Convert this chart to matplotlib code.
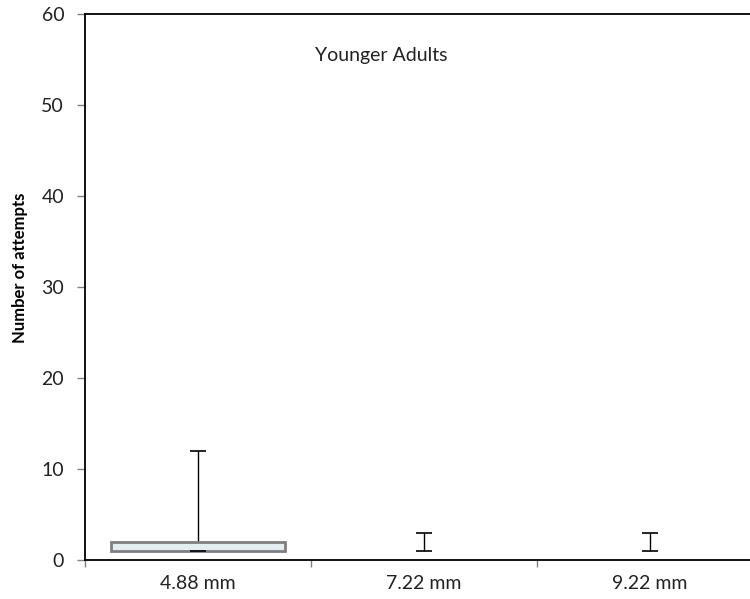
import matplotlib
matplotlib.use("Agg")
import matplotlib.pyplot as plt
import numpy as np

plt.rcParams['font.family'] = ['Lato', 'DejaVu Sans']

categories = ["4.88 mm", "7.22 mm", "9.22 mm"]
whisker_low = [1, 1, 1]
q1 = [1, 1, 1]
q3 = [2, 1, 1]
whisker_high = [12, 3, 3]
yticks = [0, 10, 20, 30, 40, 50, 60]
title_text = "Younger Adults"
ylabel_text = "Number of attempts"

fig = plt.figure(figsize=(7.5, 5.99), dpi=100)
ax = fig.add_axes([85/750, 39/599, 678/750, 546/599])

x = np.arange(len(categories))
cap_half = 0.035
box_w = 0.77

# whiskers
ax.vlines(x, whisker_low, whisker_high, color="black", lw=1.0, zorder=2)
ax.hlines(whisker_low, x - cap_half, x + cap_half, color="black", lw=1.2, zorder=4)
ax.hlines(whisker_high, x - cap_half, x + cap_half, color="black", lw=1.2, zorder=4)

# boxes (only where there is spread)
heights = np.array(q3) - np.array(q1)
for xi, h, b in zip(x, heights, q1):
    if h > 0:
        ax.bar(xi, h, bottom=b, width=box_w, color="#e2eef2", edgecolor="#7f7f7f",
               linewidth=2.0, zorder=3)

ax.set_xlim(-0.5, 2.5)
ax.set_ylim(0, 60)
ax.set_yticks(yticks)
ax.set_yticklabels([str(t) for t in yticks], fontsize=14, color="#222222")
ax.set_xticks(x)
ax.set_xticklabels(categories, fontsize=14, color="#222222")
ax.tick_params(axis='x', length=0, pad=11)
ax.set_xticks(np.arange(-0.5, 3.0, 1.0), minor=True)
ax.tick_params(axis='x', which='minor', length=5, color="#808080", width=1)
ax.tick_params(axis='y', length=6, color="#808080", width=1, pad=9)

for s in ["left", "bottom", "top"]:
    ax.spines[s].set_color("black")
    ax.spines[s].set_linewidth(1.3)
ax.spines["right"].set_visible(False)

ax.set_ylabel(ylabel_text, fontsize=12, fontweight="bold")
ax.yaxis.set_label_coords(28/750, (599-268)/599, transform=fig.transFigure)
ax.text(381/750, 1 - 55/599, title_text, transform=fig.transFigure, ha="center",
        va="center", fontsize=14, color="#222222")

fig.savefig("out.png", dpi=100)
